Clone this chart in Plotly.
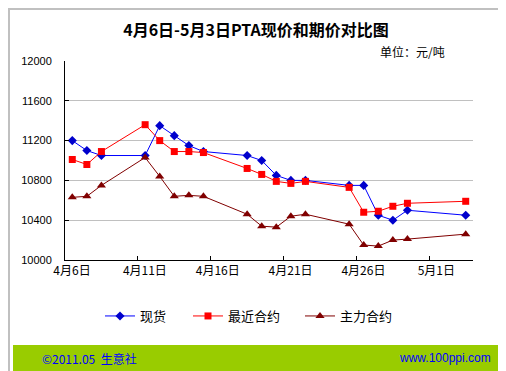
import plotly.graph_objects as go

dates = ["2011-04-06", "2011-04-07", "2011-04-08", "2011-04-11", "2011-04-12",
         "2011-04-13", "2011-04-14", "2011-04-15", "2011-04-18", "2011-04-19",
         "2011-04-20", "2011-04-21", "2011-04-22", "2011-04-25", "2011-04-26",
         "2011-04-27", "2011-04-28", "2011-04-29", "2011-05-03"]
spot = [11200, 11100, 11050, 11050, 11350, 11250, 11150, 11090, 11050, 11000,
        10850, 10800, 10800, 10750, 10750, 10450, 10400, 10500, 10450]
nearest = [11010, 10960, 11090, 11360, 11200, 11090, 11090, 11080, 10920, 10860,
           10790, 10770, 10790, 10730, 10480, 10490, 10540, 10570, 10590]
main = [10630, 10640, 10750, 11030, 10840, 10640, 10650, 10640, 10460, 10340,
        10330, 10440, 10460, 10360, 10150, 10140, 10200, 10210, 10260]

series_names = ["现货", "最近合约", "主力合约"]
tick_dates = ["2011-04-05 12:00", "2011-04-10 12:00", "2011-04-15 12:00",
              "2011-04-20 12:00", "2011-04-25 12:00", "2011-04-30 12:00"]
tick_labels = ["4月6日", "4月11日", "4月16日", "4月21日", "4月26日", "5月1日"]
y_ticks = [10000, 10400, 10800, 11200, 11600, 12000]
grid_vals = [10400, 10800, 11200, 11600]

W, H = 506, 371
L, R, T, B = 57, 41, 53, 119
PW, PH = W - L - R, H - T - B

def px(x):
    return (x - L) / PW

def py(y):
    return (H - B - y) / PH

CJK = "Noto Sans CJK SC"

fig = go.Figure()
fig.add_trace(go.Scatter(x=dates, y=spot, name=series_names[0], mode="lines+markers",
                         line=dict(color="#0000FF", width=1),
                         marker=dict(symbol="diamond", size=7, color="#0000CC"),
                         legend="legend"))
fig.add_trace(go.Scatter(x=dates, y=nearest, name=series_names[1], mode="lines+markers",
                         line=dict(color="#FF0000", width=1),
                         marker=dict(symbol="square", size=7, color="#FF0000"),
                         legend="legend2"))
fig.add_trace(go.Scatter(x=dates, y=main, name=series_names[2], mode="lines+markers",
                         line=dict(color="#800000", width=1),
                         marker=dict(symbol="triangle-up", size=8, color="#800000"),
                         legend="legend3"))

leg_common = dict(orientation="h", font=dict(family=CJK, size=13, color="black"),
                  bgcolor="rgba(0,0,0,0)", itemwidth=30, xanchor="left", yanchor="middle",
                  tracegroupgap=0, itemsizing="trace")
fig.update_layout(
    width=W, height=H,
    margin=dict(l=L, r=R, t=T, b=B, pad=0),
    paper_bgcolor="white", plot_bgcolor="white",
    showlegend=True,
    title=dict(text="<b>4月6日-5月3日PTA现价和期价对比图</b>", x=248 / W, xanchor="center",
               y=1 - 22 / H, yanchor="middle",
               font=dict(family=CJK, size=16, color="black")),
    legend=dict(x=px(92), y=py(308), **leg_common),
    legend2=dict(x=px(180), y=py(308), **leg_common),
    legend3=dict(x=px(292), y=py(308), **leg_common),
    xaxis=dict(type="date", range=["2011-04-05 12:00", "2011-05-03 12:00"],
               tickmode="array", tickvals=tick_dates, ticktext=tick_labels,
               ticks="inside", ticklen=4, tickcolor="black", ticklabelshift=7,
               showline=True, linecolor="black", linewidth=1, showgrid=False,
               zeroline=False, tickfont=dict(family=CJK, size=12, color="black")),
    yaxis=dict(range=[10000, 12000], tickmode="array", tickvals=y_ticks,
               tickformat="d",
               ticks="inside", ticklen=4, tickcolor="black",
               showline=True, linecolor="black", linewidth=1, showgrid=False,
               zeroline=False, ticklabelstandoff=10,
               tickfont=dict(family="Liberation Sans, Arial", size=11, color="black"),
               minor=dict(tickmode="array", tickvals=grid_vals, showgrid=True,
                          gridcolor="#C0C0C0", gridwidth=1, ticks="")),
)

# outer frame and footer band
fig.add_shape(type="rect", xref="paper", yref="paper",
              x0=px(1), x1=px(503.5), y0=py(1), y1=py(369.5),
              line=dict(color="#C0C0C0", width=2), layer="below")
fig.add_shape(type="rect", xref="paper", yref="paper",
              x0=px(5), x1=px(501), y0=py(337), y1=py(363.5),
              line=dict(width=0), fillcolor="#99CC00", layer="below")

fig.add_annotation(text="单位：元/吨", xref="paper", yref="paper",
                   x=px(370), y=py(43), xanchor="left", yanchor="middle",
                   showarrow=False, font=dict(family=CJK, size=12, color="black"))
fig.add_annotation(text="©2011.05  生意社", xref="paper", yref="paper",
                   x=px(32), y=py(350), xanchor="left", yanchor="middle",
                   showarrow=False, font=dict(family=CJK, size=12, color="#0000FF"))
fig.add_annotation(text="www.100ppi.com", xref="paper", yref="paper",
                   x=px(485), y=py(350), xanchor="right", yanchor="middle",
                   showarrow=False, font=dict(family="Liberation Sans, Arial", size=12, color="#0000FF"))

fig.write_html("out.html")
